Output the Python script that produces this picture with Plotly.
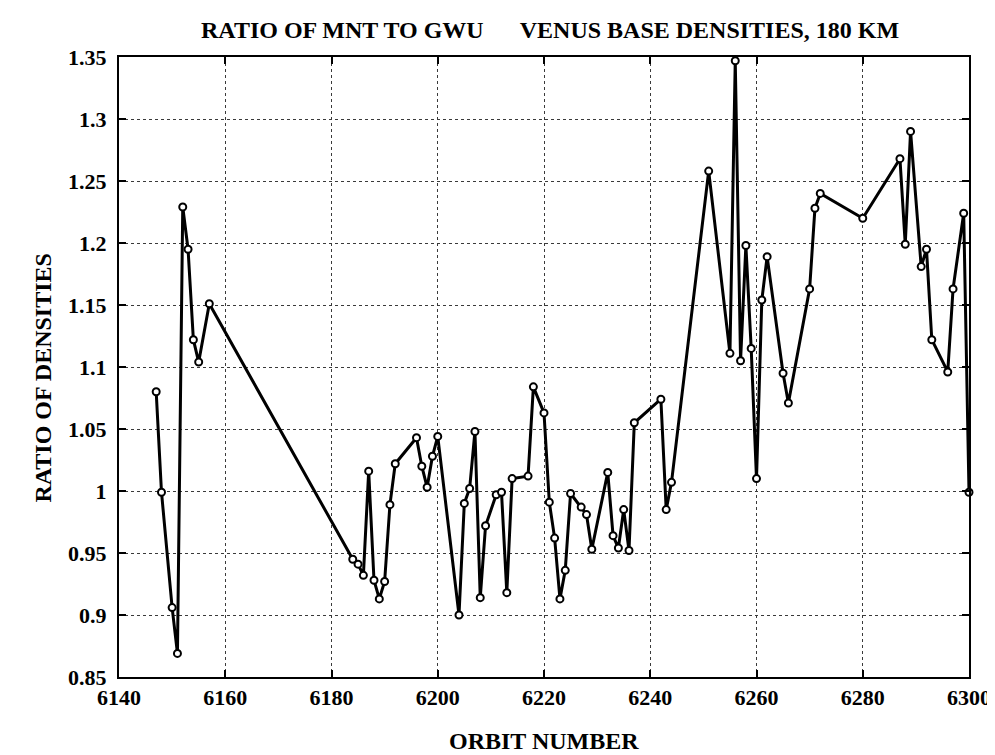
import plotly.graph_objects as go

orbit = [6147, 6148, 6150, 6151, 6152, 6153, 6154, 6155, 6157,
         6184, 6185, 6186, 6187, 6188, 6189, 6190, 6191, 6192,
         6196, 6197, 6198, 6199, 6200, 6204, 6205, 6206, 6207, 6208,
         6209, 6211, 6212, 6213, 6214, 6217, 6218, 6220, 6221, 6222,
         6223, 6224, 6225, 6227, 6228, 6229, 6232, 6233, 6234, 6235,
         6236, 6237, 6242, 6243, 6244, 6251, 6255, 6256, 6257, 6258,
         6259, 6260, 6261, 6262, 6265, 6266, 6270, 6271, 6272, 6280,
         6287, 6288, 6289, 6291, 6292, 6293, 6296, 6297, 6299, 6300]
ratio = [1.080, 0.999, 0.906, 0.869, 1.229, 1.195, 1.122, 1.104, 1.151,
         0.945, 0.941, 0.932, 1.016, 0.928, 0.913, 0.927, 0.989, 1.022,
         1.043, 1.020, 1.003, 1.028, 1.044, 0.900, 0.990, 1.002, 1.048, 0.914,
         0.972, 0.997, 0.999, 0.918, 1.010, 1.012, 1.084, 1.063, 0.991, 0.962,
         0.913, 0.936, 0.998, 0.987, 0.981, 0.953, 1.015, 0.964, 0.954, 0.985,
         0.952, 1.055, 1.074, 0.985, 1.007, 1.258, 1.111, 1.347, 1.105, 1.198,
         1.115, 1.010, 1.154, 1.189, 1.095, 1.071, 1.163, 1.228, 1.240, 1.220,
         1.268, 1.199, 1.290, 1.181, 1.195, 1.122, 1.096, 1.163, 1.224, 0.999]

x_ticks = [6140, 6160, 6180, 6200, 6220, 6240, 6260, 6280, 6300]
y_ticks = [0.85, 0.9, 0.95, 1.0, 1.05, 1.1, 1.15, 1.2, 1.25, 1.3, 1.35]
y_tick_text = ["0.85", "0.9", "0.95", "1", "1.05", "1.1", "1.15", "1.2", "1.25", "1.3", "1.35"]

title_text = "RATIO OF MNT TO GWU" + "&nbsp;" * 6 + "VENUS BASE DENSITIES, 180 KM"
x_title = "ORBIT NUMBER"
y_title = "RATIO OF DENSITIES"

FONT = "Liberation Serif"
TICKFONT = dict(family=FONT, size=22, color="black", weight="bold")
TITLEFONT = dict(family=FONT, size=24, color="black", weight="bold")

fig = go.Figure()
fig.add_trace(go.Scatter(
    x=orbit, y=ratio, mode="lines+markers",
    line=dict(color="black", width=3),
    marker=dict(symbol="circle", size=7, color="white",
                line=dict(color="black", width=2)),
    cliponaxis=False, showlegend=False,
))

axis_common = dict(
    showline=True, linecolor="black", linewidth=2, mirror="ticks",
    ticks="inside", ticklen=7, tickcolor="black", tickwidth=1.5,
    showgrid=True, gridcolor="#3a3a3a", griddash="dot", gridwidth=1.4,
    zeroline=False, tickfont=TICKFONT,
)

fig.update_xaxes(range=[6140, 6300], tickvals=x_ticks,
                 ticktext=[str(v) for v in x_ticks], **axis_common)
fig.update_yaxes(range=[0.85, 1.35], tickvals=y_ticks, ticktext=y_tick_text,
                 ticklabelstandoff=6, **axis_common)

# plot area: x 111..967 px, y 49..669 px
fig.update_layout(
    width=995, height=755,
    margin=dict(l=111, r=28, t=49, b=86),
    paper_bgcolor="white", plot_bgcolor="white",
    annotations=[
        dict(text=title_text, xref="paper", yref="paper",
             x=0.5076, y=(669 - 22) / 620, xanchor="center", yanchor="middle",
             showarrow=False, font=TITLEFONT),
        dict(text=x_title, xref="paper", yref="paper",
             x=0.5, y=(669 - 733) / 620, xanchor="center", yanchor="middle",
             showarrow=False, font=TITLEFONT),
        dict(text=y_title, xref="paper", yref="paper",
             x=(34 - 111) / 856, y=(669 - 370) / 620, xanchor="center", yanchor="middle",
             textangle=-90, showarrow=False, font=TITLEFONT),
    ],
)

fig.write_html("out.html")
